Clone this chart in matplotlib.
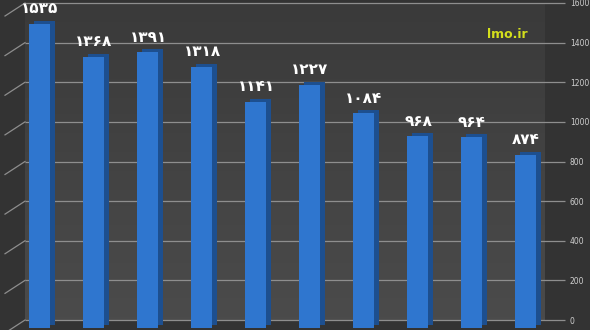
import numpy as np
import matplotlib
matplotlib.use('Agg')
import matplotlib.pyplot as plt
import matplotlib.transforms as mtransforms

# data
values = [1535, 1368, 1391, 1318, 1141, 1227, 1084, 968, 964, 874]
ticks = [0, 200, 400, 600, 800, 1000, 1200, 1400, 1600]
fa_digits = str.maketrans('0123456789', '۰۱۲۳۴۵۶۷۸۹')
labels = [str(v).translate(fa_digits) for v in values]
watermark = 'lmo.ir'

W, H = 590, 330
step = 54.0            # px between bars
x0 = 39.0              # px of first bar centre
ypx = 317.0 / 1600     # px per unit

def dx(px):
  return (px - x0) / step

fig = plt.figure(figsize=(W / 100, H / 100), dpi=100)
fig.patch.set_facecolor('#333333')
ax = fig.add_axes([0, 0, 1, 1])
ax.set_facecolor('#333333')
ax.set_xlim(dx(0), dx(W))
ax.set_ylim(-10 / ypx, 1600 + 3 / ypx)
for s in ax.spines.values():
  s.set_visible(False)

# back wall, slightly lighter towards the bottom
grad = np.linspace(0, 1, 100).reshape(-1, 1)
cmap = matplotlib.colors.LinearSegmentedColormap.from_list('wall', ['#3a3a3a', '#4b4b4b'])
ax.imshow(grad, extent=(dx(25), dx(545), 0, 1600), aspect='auto', cmap=cmap,
          origin='upper', zorder=0)

# gridlines + the little diagonal floor edges on the left
ax.hlines(ticks, dx(25), dx(565), color='#8e8e8e', lw=0.9, zorder=1)
for t in ticks:
  ax.plot([dx(25), dx(5)], [t, t - 13 / ypx], color='#8e8e8e', lw=0.9, zorder=1)

# 3d-ish bars: shifted dark copy behind, front face on top
xs = np.arange(len(values))
bw = 21 / step
down = mtransforms.offset_copy(ax.transData, fig=fig, x=0, y=-8, units='dots')
back = mtransforms.offset_copy(ax.transData, fig=fig, x=5, y=-5, units='dots')
ax.bar(xs, values, bw, color='#1d4f8f', transform=back, zorder=2)
ax.bar(xs, values, bw, color='#2f76cf', transform=down, zorder=3)

for x, v, lab in zip(xs, values, labels):
  ax.annotate(lab, (x, v), xytext=(1, 7), textcoords='offset pixels',
              ha='center', va='center', color='white', fontsize=11,
              fontweight='bold', family=['DejaVu Sans'], zorder=5)

ax.text(dx(507), 1600 - 32 / ypx, watermark, color='#d4df1c', fontsize=9,
        fontweight='bold', ha='center', va='center', zorder=5)

ax.set_xticks([])
ax.set_yticks(ticks)
ax.yaxis.tick_right()
ax.tick_params(axis='y', length=0, pad=-14.4, labelsize=5.5, labelcolor='#cfcfcf')

fig.savefig('out.png', dpi=100, facecolor=fig.get_facecolor())
